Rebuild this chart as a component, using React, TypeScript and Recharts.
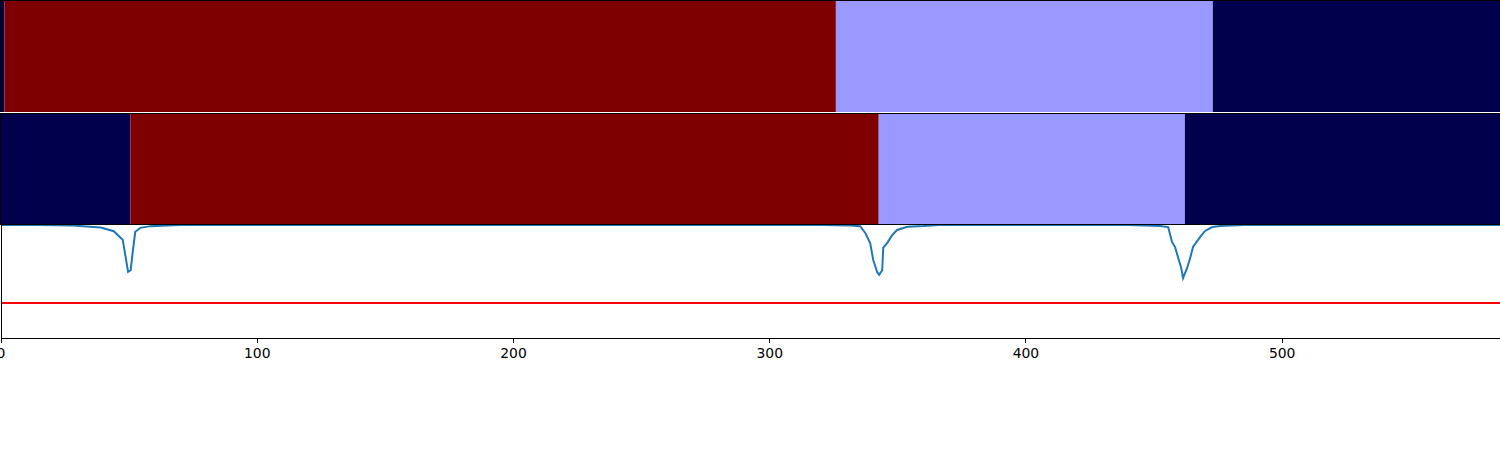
import React from 'react'
import {
  BarChart,
  Bar,
  LineChart,
  Line,
  XAxis,
  YAxis,
  ReferenceLine,
} from 'recharts'

// shared x range (samples)
const xMax = 585
const xTicks = [0, 100, 200, 300, 400, 500]

// segment colours (seismic cmap: low / high / mid-low / low)
const segmentColors = ['#00004c', '#7f0000', '#9999ff', '#00004c']

// segment boundaries for the two label strips
const topBounds = [0, 1.7, 326, 473, 585]
const midBounds = [0, 50.9, 342.7, 462.1, 585]

// probability-like signal in the bottom panel
const signalX = [
  0, 15, 28, 39, 44, 47.5, 49.6, 50.6, 51.5, 52.4, 54.4, 58.3, 70,
  320, 331.4, 335.3, 337.3, 339.2, 340.4, 342, 342.7, 343.9, 344.3, 345.8, 347.8, 349.7, 353.7, 359.9, 366,
  440, 452.4, 455.5, 457, 458.2, 459.4, 460.6, 461.3, 462.9, 464.1, 465.2, 468, 469.9, 472.7, 475.8, 485,
  585,
]
const signalY = [
  1, 1, 0.995, 0.978, 0.945, 0.87, 0.585, 0.6, 0.78, 0.94, 0.975, 0.99, 1,
  1, 0.995, 0.99, 0.93, 0.84, 0.69, 0.58, 0.56, 0.6, 0.8, 0.84, 0.91, 0.956, 0.985, 0.991, 1,
  1, 0.991, 0.982, 0.85, 0.805, 0.71, 0.62, 0.53, 0.62, 0.71, 0.805, 0.894, 0.947, 0.982, 0.991, 1,
  1,
]
const threshold = 0.31

const W = 1500

function toRow(bounds: number[]) {
  const row: Record<string, number | string> = { name: 'row' }
  for (let i = 0; i < bounds.length - 1; i++) row[`s${i}`] = bounds[i + 1] - bounds[i]
  return [row]
}

function Strip({ bounds, top }: { bounds: number[]; top: number }) {
  return (
    <div style={{ position: 'absolute', left: 0, top, width: W, height: 112 }}>
      <BarChart
        width={W}
        height={112}
        data={toRow(bounds)}
        layout="vertical"
        barCategoryGap={0}
        margin={{ top: 0, right: 0, left: 0, bottom: 0 }}
      >
        <XAxis type="number" domain={[0, xMax]} hide />
        <YAxis type="category" dataKey="name" hide />
        {segmentColors.map((c, i) => (
          <Bar key={i} dataKey={`s${i}`} stackId="a" fill={c} isAnimationActive={false} />
        ))}
      </BarChart>
      <div
        style={{
          position: 'absolute',
          left: 0,
          top: 0,
          width: W,
          height: 112,
          boxSizing: 'border-box',
          borderTop: '1px solid #000',
          borderLeft: '1px solid #000',
          borderBottom: top > 0 ? '1px solid #000' : 'none',
          pointerEvents: 'none',
        }}
      />
    </div>
  )
}

export default function App() {
  const signal = signalX.map((x, i) => ({ x, y: signalY[i] }))
  return (
    <div
      style={{
        position: 'absolute',
        left: 0,
        top: 0,
        width: W,
        height: 450,
        background: '#fff',
        fontFamily: 'DejaVu Sans',
      }}
    >
      <Strip bounds={topBounds} top={0} />
      <Strip bounds={midBounds} top={113} />
      <div style={{ position: 'absolute', left: 0, top: 225 }}>
        <LineChart width={W} height={150} data={signal} margin={{ top: 0, right: 0, left: 0, bottom: 0 }}>
          <XAxis
            dataKey="x"
            type="number"
            domain={[0, xMax]}
            ticks={xTicks}
            height={37}
            tickSize={5}
            tickMargin={5}
            interval={0}
            axisLine={{ stroke: '#000', strokeWidth: 1, shapeRendering: 'crispEdges' }}
            tickLine={{ stroke: '#000', shapeRendering: 'crispEdges' }}
            tick={{ fill: '#000', fontSize: 13.9, fontFamily: 'DejaVu Sans' }}
          />
          <YAxis
            domain={[0, 1]}
            width={1}
            tick={false}
            tickLine={false}
            axisLine={{ stroke: '#000', strokeWidth: 1, shapeRendering: 'crispEdges' }}
          />
          <ReferenceLine y={threshold} stroke="#ff0000" strokeWidth={2} />
          <Line
            type="linear"
            dataKey="y"
            stroke="#1f77b4"
            strokeWidth={2}
            dot={false}
            isAnimationActive={false}
          />
        </LineChart>
      </div>
    </div>
  )
}
